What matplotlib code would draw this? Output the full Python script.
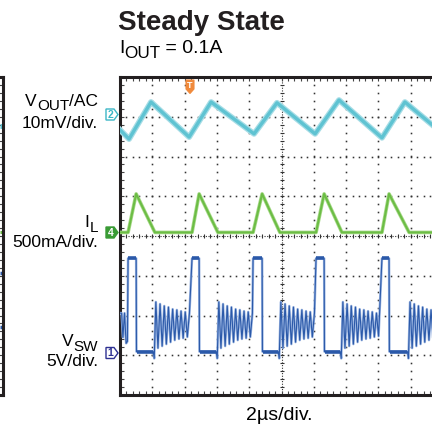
import matplotlib
matplotlib.use("Agg")
import matplotlib.pyplot as plt
import numpy as np
from matplotlib.patches import Polygon
from matplotlib.transforms import IdentityTransform

FIG_W, FIG_H = 432, 428
FONT = "Liberation Sans"

# screen coordinates in divisions: x 0..10 (2us/div), y 0..8 from the bottom
vout_t = [0.0, 0.28, 0.96, 2.14, 2.82, 4.15, 4.86, 6.04, 6.78, 8.11, 8.82, 10.0]
vout_y = [6.67, 6.44, 7.37, 6.49, 7.37, 6.57, 7.35, 6.57, 7.42, 6.47, 7.37, 6.57]

# switching events (div): high-side on, off, inductor current back to zero
t_on = [0.25, 2.23, 4.12, 6.07, 8.11]
t_off = [0.50, 2.45, 4.40, 6.32, 8.33]
t_zero = [1.08, 3.03, 4.95, 6.87, 8.95]

il_base = 4.09
il_peak = 5.06

vsw_high = 3.44
vsw_low = 1.09
vsw_dip = 0.92
ring_top = [2.34, 2.29, 2.24, 2.21, 2.16, 2.14, 2.11, 2.09, 2.06]
ring_bot = [1.18, 1.23, 1.28, 1.33, 1.38, 1.41, 1.43, 1.46, 1.48]
ring_period = 0.13
vsw_lead_t = [0.0, 0.05, 0.09, 0.14, 0.19, 0.23]
vsw_lead_y = [2.06, 2.06, 1.45, 2.06, 1.30, 1.35]

# traces of the neighbouring screen, visible only at its right edge
left_vout_y = 6.77
left_il_y = 4.10
left_vsw_y = [1.72, 3.07]

CYAN = "#5fc3d2"
GREEN = "#6cbd45"
BLUE = "#2b59a9"
BLUE_LIGHT = "#9cb6e2"
FRAME = "#231f20"


def px(x, y):
    # figure pixels measured from the top-left corner -> display coords
    return (x, FIG_H - y)


def style_screen(ax):
    ax.set_xlim(0, 10)
    ax.set_ylim(0, 8)
    ax.set_xticks(np.arange(0, 10.01, 0.2))
    ax.set_yticks(np.arange(0, 8.01, 0.2))
    ax.tick_params(direction="in", length=3, width=0.8, colors="#444444",
                   top=True, right=True, labelbottom=False, labelleft=False)
    for sp in ax.spines.values():
        sp.set_linewidth(2.2)
        sp.set_color(FRAME)
    ax.set_facecolor("white")


def draw_grid(ax):
    ys = np.arange(0.2, 8.0, 0.2)
    xs = np.arange(0.2, 10.0, 0.2)
    dot = dict(ls="none", marker="s", ms=1.15, mew=0, color="#333333", zorder=1)
    for xv in range(1, 10):
        if xv != 5:
            ax.plot([xv] * len(ys), ys, **dot)
    for yv in range(1, 8):
        if yv != 4:
            ax.plot(xs, [yv] * len(xs), **dot)
    # centre cross with fine ticks
    ax.plot([5, 5], [0, 8], ls=(0, (1, 1.4)), lw=0.8, color="#333333", zorder=1)
    ax.plot([0, 10], [4, 4], ls=(0, (1, 1.4)), lw=0.8, color="#333333", zorder=1)
    ax.plot([5] * len(ys), ys, ls="none", marker="_", ms=3.5, mew=0.8,
            color="#333333", zorder=1)
    ax.plot(xs, [4] * len(xs), ls="none", marker="|", ms=3.5, mew=0.8,
            color="#333333", zorder=1)


def channel_marker(fig, xc, yc, text, edge, fill, txt_color):
    x0, x1, x2 = xc - 5, xc + 3, xc + 7
    h = 5.5
    verts = [px(x0, yc - h), px(x1, yc - h), px(x2, yc), px(x1, yc + h), px(x0, yc + h)]
    fig.add_artist(Polygon(verts, closed=True, transform=IdentityTransform(),
                           facecolor=fill, edgecolor=edge, lw=1.0))
    fig.text((xc - 0.5) / FIG_W, 1 - yc / FIG_H, text,
             ha="center", va="center", fontsize=7.5, color=txt_color,
             family=FONT, fontweight="bold")


def label(fig, pieces, x_right, family=FONT):
    # pieces: list of (text, baseline_y_px, fontsize); laid out right-to-left
    prev = None
    for text, base, size in reversed(pieces):
        if prev is None:
            prev = fig.text(x_right / FIG_W, 1 - base / FIG_H, text, ha="right",
                            va="baseline", fontsize=size, family=family)
        else:
            prev = fig.add_artist(plt.Annotation(
                text, xy=(0, FIG_H - base), xycoords=(prev, "figure pixels"),
                ha="right", va="baseline", fontsize=size, family=family))


fig = plt.figure(figsize=(FIG_W / 100, FIG_H / 100), dpi=100)

ax = fig.add_axes([120 / FIG_W, 33 / FIG_H, 323 / FIG_W, 318 / FIG_H])
style_screen(ax)
draw_grid(ax)

# neighbouring screen on the left
axl = fig.add_axes([(3 - 323) / FIG_W, 33 / FIG_H, 323 / FIG_W, 318 / FIG_H])
style_screen(axl)
axl.plot([9.9, 10], [left_vout_y] * 2, color=CYAN, lw=3.5, solid_capstyle="butt")
axl.plot([9.9, 10], [left_il_y] * 2, color=GREEN, lw=2.2, solid_capstyle="butt")
for yv in left_vsw_y:
    axl.plot([9.92, 10], [yv] * 2, color=BLUE, lw=2.5, solid_capstyle="butt")

# VOUT/AC
ax.plot(vout_t, vout_y, color="#a6dde6", lw=4.2, zorder=3, solid_joinstyle="round")
ax.plot(vout_t, vout_y, color=CYAN, lw=2.4, zorder=3, solid_joinstyle="round")

# IL
il_t, il_y = [0.0], [il_base]
for on, off, zero in zip(t_on, t_off, t_zero):
    il_t += [on, off, zero]
    il_y += [il_base, il_peak, il_base]
il_t.append(10.0)
il_y.append(il_base)
ax.plot(il_t, il_y, color="#a8da8a", lw=2.6, zorder=4, solid_joinstyle="round")
ax.plot(il_t, il_y, color=GREEN, lw=1.5, zorder=4, solid_joinstyle="round")

# VSW
sw_t, sw_y = list(vsw_lead_t), list(vsw_lead_y)
flats = []
for i, (on, off, zero) in enumerate(zip(t_on, t_off, t_zero)):
    sw_t += [on, off, off + 0.01, zero - 0.05, zero - 0.02]
    sw_y += [vsw_high, vsw_high, vsw_low, vsw_low, vsw_dip]
    flats.append(([on + 0.01, off], vsw_high))
    flats.append(([off + 0.02, zero - 0.05], vsw_low))
    stop = t_on[i + 1] - 0.02 if i + 1 < len(t_on) else 10.4
    for k in range(2 * len(ring_top)):
        t = zero + 0.03 + k * ring_period / 2
        if t > stop:
            break
        sw_t.append(t)
        sw_y.append(ring_top[k // 2] if k % 2 == 0 else ring_bot[k // 2])
ax.plot(sw_t, sw_y, color=BLUE_LIGHT, lw=1.8, zorder=5)
ax.plot(sw_t, sw_y, color=BLUE, lw=0.8, zorder=5)
for xs, yv in flats:
    ax.plot(xs, [yv, yv], color=BLUE, lw=2.6, zorder=5, solid_capstyle="butt")

# channel markers and trigger
channel_marker(fig, 111, 114.5, "2", "#3db7c6", "white", "#3db7c6")
channel_marker(fig, 111, 232.5, "4", "#3a9b35", "#3a9b35", "white")
channel_marker(fig, 111, 353, "1", "#2e3192", "white", "#2e3192")
trig = [px(186, 80), px(194, 80), px(194, 89), px(190, 93.5), px(186, 89)]
fig.add_artist(Polygon(trig, closed=True, transform=IdentityTransform(),
                       facecolor="#f08a3c", edgecolor="#f08a3c", lw=0.8))
fig.text(190 / FIG_W, 1 - 86 / FIG_H, "T", ha="center", va="center",
         fontsize=6.5, color="white", family=FONT, fontweight="bold")

# titles
fig.text(118 / FIG_W, 1 - 30 / FIG_H, "Steady State", ha="left", va="baseline",
         fontsize=20, fontweight="bold", family=FONT, color="#231f20")
t1 = fig.text(119 / FIG_W, 1 - 53 / FIG_H, "I", ha="left", va="baseline",
              fontsize=14, family=FONT)
t2 = fig.add_artist(plt.Annotation("OUT", xy=(1, FIG_H - 58), xycoords=(t1, "figure pixels"),
                                   ha="left", va="baseline", fontsize=12.3, family=FONT))
fig.add_artist(plt.Annotation(" = 0.1A", xy=(1, FIG_H - 53), xycoords=(t2, "figure pixels"),
                              ha="left", va="baseline", fontsize=14, family=FONT))

# channel labels
label(fig, [("V", 106, 12.5), ("OUT", 110, 11), ("/AC", 106, 12.5)], 98)
label(fig, [("10mV/div.", 128, 12.5)], 98)
label(fig, [("I", 227, 12.5), ("L", 231.5, 11)], 98)
label(fig, [("500mA/div.", 247, 12.5)], 98)
label(fig, [("V", 345.5, 12.5), ("SW", 351, 11)], 98)
label(fig, [("5V/div.", 366.5, 12.5)], 98)

fig.text(246 / FIG_W, 1 - 420 / FIG_H, "2\u00b5s/div.", ha="left", va="baseline",
         fontsize=14, family=FONT)

fig.savefig("out.png", dpi=100)
